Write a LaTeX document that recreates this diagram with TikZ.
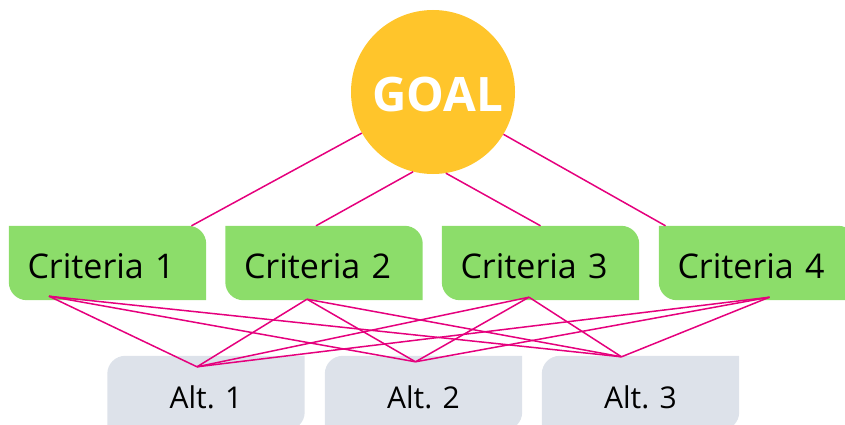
\documentclass[tikz,border=0pt]{standalone}
\usepackage{fontspec}
\setmainfont{Open Sans}
\usetikzlibrary{math,backgrounds}
\definecolor{goalyellow}{HTML}{FFC52B}
\definecolor{critgreen}{HTML}{8CDD6A}
\definecolor{altgray}{HTML}{DDE2EA}
\definecolor{linkpink}{HTML}{E5007D}

\begin{document}
\begin{tikzpicture}[x=1pt,y=1pt,
    goal/.style={circle,fill=goalyellow,minimum size=164pt,inner sep=0pt,text=white,
      text height=39pt,text depth=0pt,font=\bfseries\fontsize{47.5}{52}\selectfont},
    crit/.style={text width=160pt,align=left,inner xsep=18.5pt,inner ysep=0pt,minimum height=74pt,
      text height=31pt,text depth=0pt,font=\fontsize{34}{39}\selectfont},
    alt/.style={minimum width=197pt,minimum height=74pt,inner sep=0pt,
      text height=31pt,text depth=0pt,font=\fontsize{30}{36}\selectfont},
    link/.style={draw=linkpink,line width=1.5pt}]
      \tikzmath{\crad = 18;}
      \useasboundingbox (0,0) rectangle (845,424);
      \node[goal] (goal) at (433,332) {\hspace*{10pt}GOAL};
      \node[crit] (c1) at (107.5,161) {Criteria 1};
      \node[crit] (c2) at (324,161) {Criteria 2};
      \node[crit] (c3) at (540.5,161) {Criteria 3};
      \node[crit] (c4) at (757.5,161) {Criteria 4};
      \node[alt] (a1) at (206,31) {Alt. 1};
      \node[alt] (a2) at (423.5,31) {Alt. 2};
      \node[alt] (a3) at (640.5,31) {Alt. 3};
      \begin{scope}[on background layer]
        \foreach \n in {c1,c2,c3,c4}
          \fill[critgreen] (\n.north west) -- ([xshift=-\crad pt]\n.north east) arc[start angle=90,end angle=0,radius=\crad pt]
            -- (\n.south east) -- ([xshift=\crad pt]\n.south west) arc[start angle=270,end angle=180,radius=\crad pt] -- cycle;
        \foreach \n in {a1,a2,a3}
          \fill[altgray] ([xshift=\crad pt]\n.north west) -- (\n.north east) -- ([yshift=\crad pt]\n.south east)
            arc[start angle=0,end angle=-90,radius=\crad pt] -- (\n.south west) -- ([yshift=-\crad pt]\n.north west)
            arc[start angle=180,end angle=90,radius=\crad pt] -- cycle;
      \end{scope}
      \coordinate (b1) at ([shift={(-58.5,4)}]c1.south);
      \coordinate (b2) at ([shift={(-17,1)}]c2.south);
      \coordinate (b3) at ([shift={(-11.5,3)}]c3.south);
      \coordinate (b4) at ([shift={(12,3)}]c4.south);
      \coordinate (t1) at ([shift={(-9,-11)}]a1.north);
      \coordinate (t2) at ([shift={(-8,-6)}]a2.north);
      \coordinate (t3) at ([shift={(-19,-1)}]a3.north);
      \foreach \ang/\n/\dx in {-150.6/c1/84, -104/c2/-8, -81.6/c3/0, -31.6/c4/-92}
        \draw[link] (goal.\ang) -- ([xshift=\dx pt]\n.north);
      \foreach \i in {1,...,4}
        \foreach \j in {1,2,3}
          \draw[link] (b\i) -- (t\j);
    \end{tikzpicture}
\end{document}
